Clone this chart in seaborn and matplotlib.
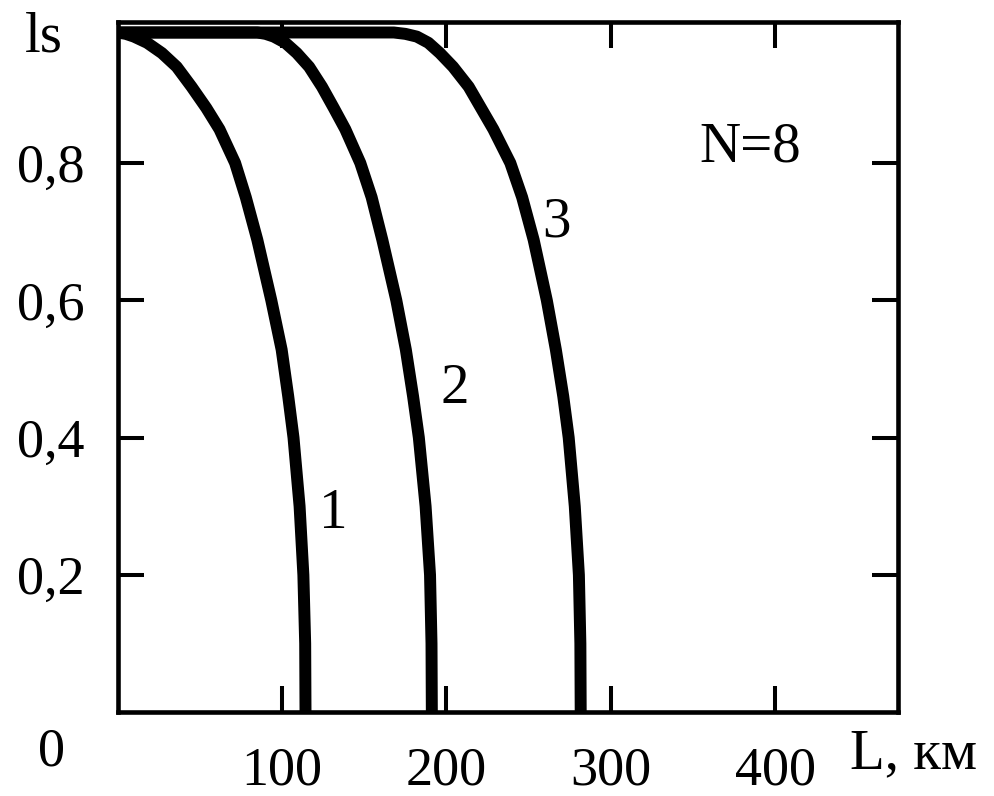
import numpy as np
import pandas as pd
import matplotlib
matplotlib.use('Agg')
import matplotlib.pyplot as plt
import seaborn as sns

# Data (L in km, ls dimensionless)
ls_levels = [0.99, 0.988, 0.984, 0.975, 0.96, 0.94, 0.911, 0.88, 0.849, 0.8,
             0.75, 0.688, 0.6, 0.528, 0.46, 0.4, 0.3, 0.2, 0.1, 0.0]
L_curve1 = [0, 5, 10, 18, 27, 36, 45, 54, 62, 71.5,
            78, 85, 93.5, 99.8, 103.8, 107, 110.7, 113, 114.1, 114.3]
L_curve2 = [85, 90, 95, 102, 109, 116.5, 124.3, 131.5, 138.5, 147.6,
            154.5, 161, 169.5, 175.3, 179.7, 183.2, 187.3, 190, 190.9, 191.1]
L_curve3 = [168, 175, 182, 189, 196, 204, 213.5, 221, 228.5, 238.8,
            246, 253, 261, 266.5, 271, 274.3, 278, 280.5, 281.4, 281.6]
curve_names = ['1', '2', '3']
x_ticks = [100, 200, 300, 400]
y_ticks = [0.2, 0.4, 0.6, 0.8]
y_ticklabels = ['0,2', '0,4', '0,6', '0,8']

rows = []
for name, Ls in zip(curve_names, [L_curve1, L_curve2, L_curve3]):
    xs, ys = list(Ls), list(ls_levels)
    if Ls[0] > 0:
        # flat part along the top before the curve bends down
        xs = [0] + xs
        ys = [ls_levels[0]] + ys
    for x, y in zip(xs, ys):
        rows.append({'L': x, 'ls': y, 'curve': name})
df = pd.DataFrame(rows)

sns.set_theme(style='ticks')
plt.rcParams['font.family'] = ['Liberation Serif', 'DejaVu Serif']
plt.rcParams['text.color'] = 'black'

W, H = 994, 796
fig = plt.figure(figsize=(W / 100, H / 100), dpi=100)
ax = fig.add_axes([117.5 / W, (H - 712.3) / H, (898 - 117.5) / W, (712.3 - 21.5) / H])

for name in curve_names:
    sub = df[df['curve'] == name]
    sns.lineplot(data=sub, x='L', y='ls', ax=ax, color='black', linewidth=8.6,
                 estimator=None, sort=False, legend=False)
for line in ax.get_lines():
    line.set_solid_capstyle('butt')
    line.set_solid_joinstyle('round')

ax.set_xlim(0, 474.5)
ax.set_ylim(0, 1.006)
ax.set_xticks(x_ticks)
ax.set_xticklabels([str(t) for t in x_ticks])
ax.set_yticks(y_ticks)
ax.set_yticklabels(y_ticklabels)
ax.set_xlabel('')
ax.set_ylabel('')

for s in ax.spines.values():
    s.set_visible(True)
    s.set_linewidth(3.3)
    s.set_color('black')

ax.tick_params(axis='both', which='major', direction='in', length=19, width=2.9,
               color='black', labelsize=39, labelcolor='black',
               top=True, right=True, bottom=True, left=True)
ax.tick_params(axis='x', pad=24)
ax.tick_params(axis='y', pad=24)

# curve numbers and parameter
ax.text(131.4, 0.268, '1', fontsize=41, ha='center', va='baseline', color='black')
ax.text(204.9, 0.45, '2', fontsize=41, ha='center', va='baseline', color='black')
ax.text(266.7, 0.6926, '3', fontsize=41, ha='center', va='baseline', color='black')
ax.text(384.8, 0.8015, 'N=8', fontsize=41, ha='center', va='baseline', color='black')

# axis names and origin
fig.text(63 / W, 1 - 52 / H, 'ls', fontsize=41, ha='right', va='baseline', color='black')
fig.text(65 / W, 1 - 765 / H, '0', fontsize=39, ha='right', va='baseline', color='black')
fig.text(850 / W, 1 - 768 / H, 'L, км', fontsize=41, ha='left', va='baseline', color='black')

fig.savefig('out.png', dpi=100, facecolor='white')
